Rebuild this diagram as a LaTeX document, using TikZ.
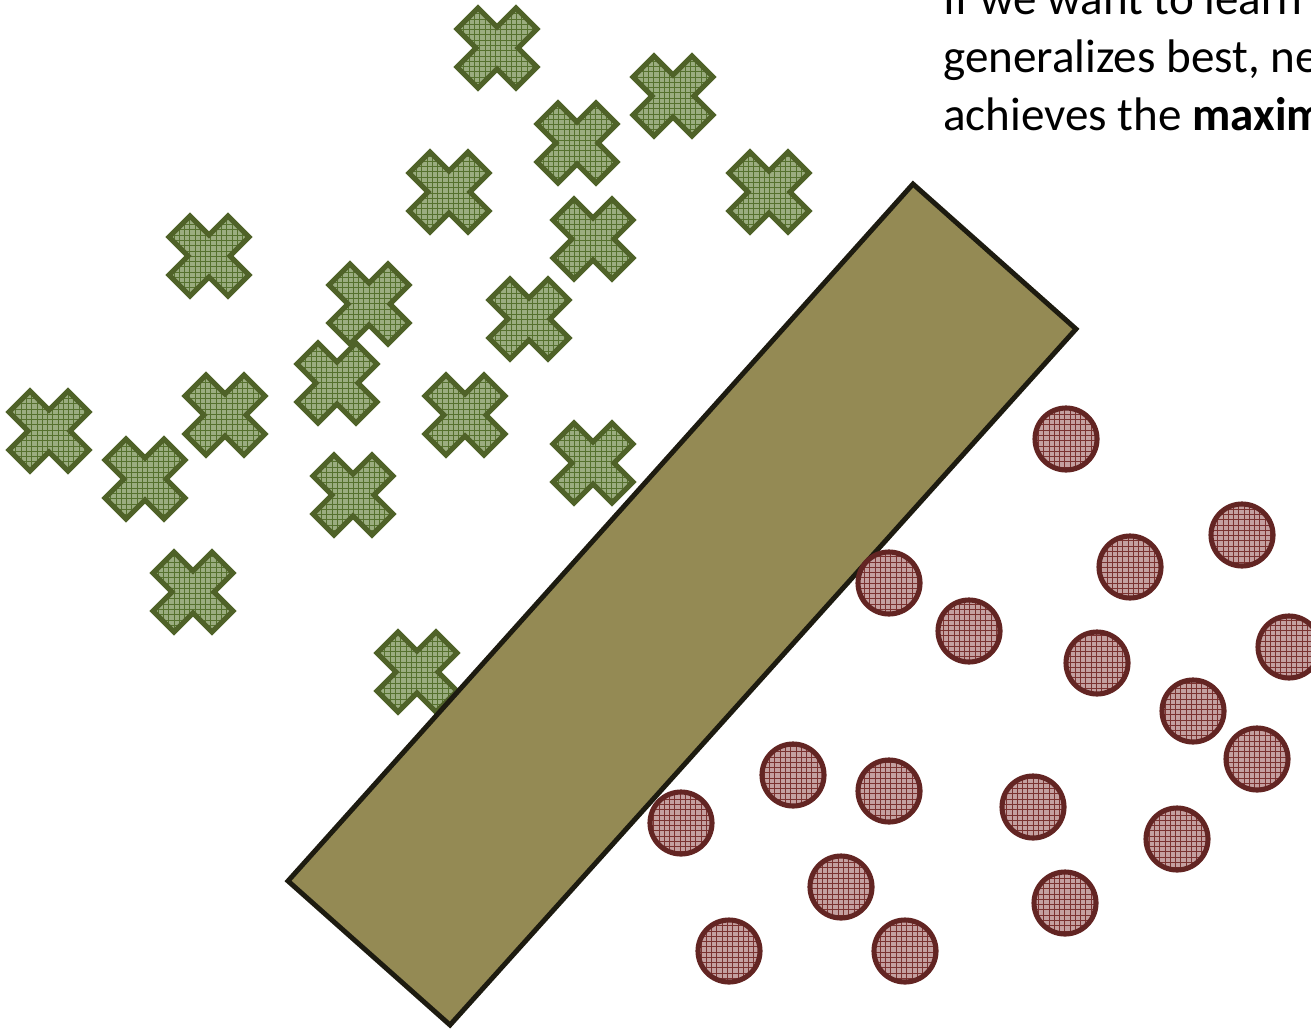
\documentclass[tikz,border=0pt]{standalone}
\usepackage{fontspec}
\setmainfont{Carlito}
\usetikzlibrary{patterns}
\definecolor{xline}{HTML}{4F6228}
\definecolor{xfill}{HTML}{9BAD80}
\definecolor{xpat}{HTML}{56712E}
\definecolor{oline}{HTML}{632523}
\definecolor{ofill}{HTML}{C4A0A0}
\definecolor{opat}{HTML}{7A3230}
\definecolor{boxfill}{HTML}{948A54}
\definecolor{boxline}{HTML}{1D1B10}
\tikzset{
  crossstyle/.style={fill=xfill, postaction={pattern=grid, pattern color=xpat},
    postaction={draw=xline, line width=2.9pt}},
  circstyle/.style={fill=ofill, postaction={pattern=grid, pattern color=opat},
    postaction={draw=oline, line width=2.9pt}},
  boxstyle/.style={fill=boxfill, draw=boxline, line width=2.8pt, line join=miter},
  crossmark/.pic={\path[crossstyle] (0,21)--(19,40)--(40,19)--(21,0)--(40,-19)--(19,-40)--(0,-21)--(-19,-40)--(-40,-19)--(-21,0)--(-40,19)--(-19,40)--cycle;},
  txt/.style={anchor=base west, inner sep=0pt, font=\fontsize{26.8}{32.9}\selectfont}
}
\begin{document}
\begin{tikzpicture}[x=0.02cm, y=-0.02cm]
\useasboundingbox (0,0) rectangle (1311,1031);
\clip (0,0) rectangle (1311,1031);
% crosses
\foreach \px/\py in {497/48, 673/96, 577/143, 769/192, 449/192, 593/239, 209/256,
  369/304, 529/319, 337/383, 225/415, 49/431, 465/415, 145/479, 593/463, 353/495,
  193/592, 417/672}
  \pic at (\px,\py) {crossmark};
% margin band
\path[boxstyle] (913,184) coordinate (b1) -- (1076,329) coordinate (b2)
  -- (450,1025) coordinate (b3) -- (288,881) coordinate (b4) -- cycle;
% circles
\foreach \px/\py in {1066/439, 1242/535, 1130/567, 889/583, 969/631, 1097/663,
  1289/647, 1193/711, 1257/759, 793/775, 889/791, 1033/807, 681/823, 1177/839,
  841/887, 1065/903, 729/951, 905/951}
  \path[circstyle] (\px,\py) circle[radius=31];
% text
\node[txt] (t1) at (943,14) {If we want to learn};
\node[txt] (t2) at (943,72) {generalizes best, ne};
\node[txt] (t3) at (943,130) {achieves the \textbf{maxim}};
\end{tikzpicture}
\end{document}
